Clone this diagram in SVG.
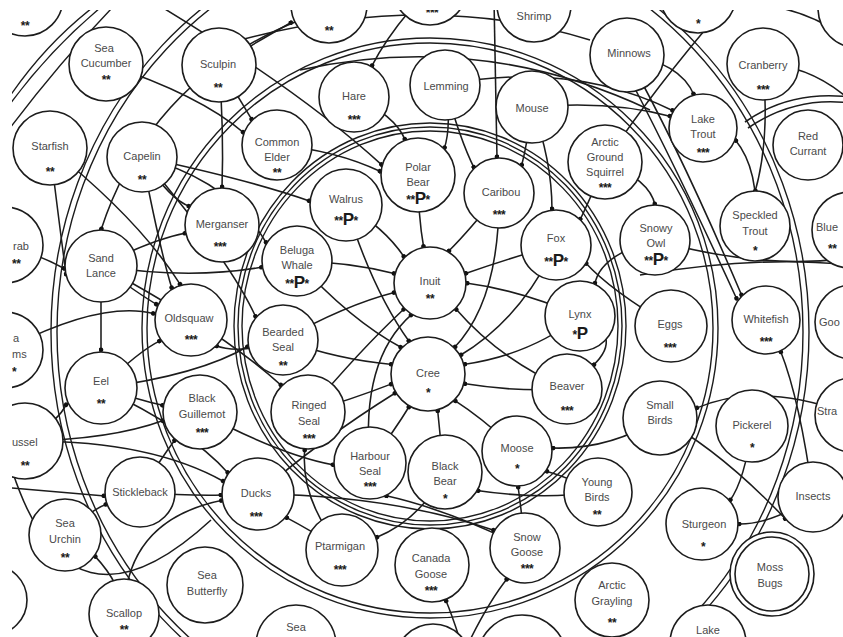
<svg xmlns="http://www.w3.org/2000/svg" width="843" height="637" viewBox="0 0 843 637">
<defs>
<clipPath id="clip"><rect x="12" y="10" width="831" height="627"/></clipPath>
<marker id="dot" viewBox="0 0 6 6" refX="4.5" refY="3" markerWidth="5" markerHeight="5" markerUnits="userSpaceOnUse" orient="auto"><circle cx="3" cy="3" r="2.8" fill="#111"/></marker>
<style>
.n circle{fill:#fff;stroke:#1c1c1c;stroke-width:1.6}
.n text{font-family:"Liberation Sans",Arial,Helvetica,sans-serif;font-size:11px;fill:#4a4a4a;text-anchor:middle}
.n text.s{font-size:12px;font-weight:bold;fill:#1a1a1a;letter-spacing:-0.5px}
.n text.e{text-anchor:start}
.P{font-size:17px}
#rings ellipse,#rings path{fill:none;stroke:#1c1c1c;stroke-width:1.4}
#connectors path{fill:none;stroke:#1c1c1c;stroke-width:1.55}
#connectors path.m{marker-end:url(#dot)}
</style>
</defs>
<rect width="843" height="637" fill="#fff"/>
<g clip-path="url(#clip)">
<g id="rings">
<ellipse cx="430" cy="326" rx="188" ry="195"/>
<ellipse cx="430" cy="326" rx="192" ry="199"/>
<ellipse cx="430" cy="326" rx="196" ry="203"/>
<ellipse cx="430" cy="328" rx="283" ry="285"/>
<ellipse cx="430" cy="328" rx="288" ry="290"/>
<ellipse cx="430" cy="332" rx="373" ry="400"/>
<ellipse cx="430" cy="332" rx="379" ry="405"/>
<path d="M10 96 Q45 45 92 8"/>
<path d="M10 104 Q50 50 100 8"/>
<path d="M10 128 Q60 62 112 8"/>
</g>
<g id="connectors">
<path class="m" d="M418 175 Q418 215 423.7 247.5"/>
<path class="m" d="M499 193 Q470 230 448 251.8"/>
<path class="m" d="M346 205 Q385 228 404.5 257.5"/>
<path class="m" d="M297 261 Q350 262 395.2 273.7"/>
<path class="m" d="M283 340 Q345 305 395.2 292.3"/>
<path class="m" d="M556 245 Q510 258 464.8 273.7"/>
<path class="m" d="M308 412 Q360 350 404.5 308.5"/>
<path class="m" d="M370 463 Q360 360 412 314.2"/>
<path class="m" d="M567 389 Q500 360 455.5 308.5"/>
<path class="m" d="M580 316 Q520 290 466 283"/>
<path class="m" d="M499 193 Q500 300 454.2 347.8"/>
<path class="m" d="M556 245 Q520 320 460 355.5"/>
<path class="m" d="M580 316 Q530 355 463.7 364.4"/>
<path class="m" d="M567 389 Q515 392 463.7 383.6"/>
<path class="m" d="M517 451 Q485 420 454.2 400.2"/>
<path class="m" d="M445 472 Q440 440 437.6 409.7"/>
<path class="m" d="M370 463 Q395 430 409.5 406"/>
<path class="m" d="M308 412 Q350 400 392.3 383.6"/>
<path class="m" d="M283 340 Q340 360 392.3 364.4"/>
<path class="m" d="M297 261 Q350 320 401.8 347.8"/>
<path class="m" d="M346 205 Q372 290 409.5 342"/>
<path class="m" d="M258 494 Q320 440 396 392.5"/>
<path class="m" d="M106 64 Q200 95 244 133"/>
<path class="m" d="M150 0 Q300 90 382.3 165.4"/>
<path class="m" d="M277 145 Q335 150 381.1 171.8"/>
<path class="m" d="M354 97 Q395 115 405.3 140.2"/>
<path class="m" d="M430 -12 Q390 30 371.5 66.7"/>
<path class="m" d="M219 65 Q260 40 292 22"/>
<path class="m" d="M445 85 Q460 140 474.3 168.3"/>
<path class="m" d="M445 85 Q452 125 444.2 148.8"/>
<path class="m" d="M532 107 Q552 160 552 210"/>
<path class="m" d="M532 107 Q528 140 521.5 166.2"/>
<path class="m" d="M494 0 L497 158"/>
<path class="m" d="M605 162 Q590 200 579.7 220.3"/>
<path class="m" d="M671 326 Q610 290 585.3 262.5"/>
<path class="m" d="M605 162 Q650 180 655 205"/>
<path class="m" d="M655 240 Q600 255 594.8 284.3"/>
<path class="m" d="M580 316 Q625 335 593 365.6"/>
<path class="m" d="M660 418 Q610 450 551.9 448"/>
<path class="m" d="M752 426 Q745 480 729.6 501"/>
<path class="m" d="M813 497 Q770 525 738 524"/>
<path class="m" d="M660 418 Q720 450 786 519.5"/>
<path class="m" d="M627 55 Q680 62 694 95"/>
<path class="m" d="M532 107 Q610 100 671 116.4"/>
<path class="m" d="M445 85 Q570 60 673.6 111"/>
<path class="m" d="M755 228 Q760 170 735 139.6"/>
<path class="m" d="M763 64 Q770 140 755 192"/>
<path class="m" d="M627 55 Q680 150 742 296"/>
<path class="m" d="M620 60 Q672 158 737 299.5"/>
<path class="m" d="M813 497 Q800 400 780.4 350.8"/>
<path class="m" d="M142 157 Q170 200 190 206.5"/>
<path class="m" d="M142 157 Q230 180 266.7 243.5"/>
<path class="m" d="M142 157 Q250 180 310.2 201.2"/>
<path class="m" d="M101 266 Q140 295 157.4 304.8"/>
<path class="m" d="M101 266 Q150 240 186 233"/>
<path class="m" d="M101 266 Q190 280 262.5 267"/>
<path class="m" d="M101 388 Q140 350 160.5 340.6"/>
<path class="m" d="M101 388 Q140 400 163.6 405.6"/>
<path class="m" d="M101 388 Q200 375 248.5 346"/>
<path class="m" d="M142 157 Q230 260 256 317.5"/>
<path class="m" d="M101 266 Q220 330 281.8 385.8"/>
<path class="m" d="M283 340 Q240 355 215.5 345.5"/>
<path class="m" d="M219 65 Q240 100 252.3 120.3"/>
<path class="m" d="M219 65 Q224 130 222 188"/>
<path class="m" d="M300 20 Q150 80 101 230"/>
<path class="m" d="M50 148 Q60 230 66.2 275.3"/>
<path class="m" d="M142 157 Q160 250 172 288.8"/>
<path class="m" d="M50 148 Q140 220 180.7 285.2"/>
<path class="m" d="M101 302 L101 351"/>
<path class="m" d="M5 350 Q100 300 154.5 313.7"/>
<path class="m" d="M5 245 Q40 255 65.1 269"/>
<path class="m" d="M25 441 Q150 440 224.2 481.7"/>
<path class="m" d="M25 441 Q60 420 66.5 403.6"/>
<path class="m" d="M25 441 Q110 440 164 420.3"/>
<path class="m" d="M140 492 Q190 496 222 495"/>
<path class="m" d="M140 492 Q160 460 175.2 439.5"/>
<path class="m" d="M0 487 Q60 492 105 496"/>
<path class="m" d="M65 535 Q90 510 107 504"/>
<path class="m" d="M124 614 Q122 585 94.5 555.6"/>
<path class="m" d="M124 614 Q125 520 222.5 500.3"/>
<path class="m" d="M101 388 Q190 430 228.5 473.4"/>
<path class="m" d="M342 550 Q310 530 285.6 517.1"/>
<path class="m" d="M342 550 Q300 500 304.8 448.9"/>
<path class="m" d="M200 412 Q280 455 334 465"/>
<path class="m" d="M525 548 Q450 510 385.2 495.6"/>
<path class="m" d="M445 472 Q420 520 375.8 537.7"/>
<path class="m" d="M258 494 Q390 495 494.7 530.5"/>
<path class="m" d="M470 640 Q490 600 507.5 578.3"/>
<path class="m" d="M460 640 Q452 615 445.6 599.8"/>
<path class="m" d="M525 548 Q522 515 518 486"/>
<path class="m" d="M598 492 Q570 478 545.7 471"/>
<path class="m" d="M598 492 Q540 500 477 490.5"/>
<path class="m" d="M852 415 Q760 380 695.7 408.4"/>
<path d="M655 240 Q760 270 850 258"/>
<path d="M640 275 Q760 255 850 265"/>
<path d="M763 64 Q810 65 850 100"/>
<path d="M745 122 Q790 90 850 97"/>
<path d="M748 128 Q795 96 850 103"/>
<path d="M605 162 Q660 80 735 -5"/>
<path d="M240 40 Q430 -10 590 40"/>
<path d="M300 70 Q480 30 650 110"/>
<path d="M12 470 Q70 650 211 520"/>
<path d="M780 8 Q815 15 850 40"/>
</g>
<g id="n-seabird" class="n"><circle cx="25" cy="-2" r="38"/><text class="s" x="25" y="30">**</text></g>
<g id="n-arcticcod" class="n"><circle cx="329" cy="5" r="38"/><text class="s" x="329" y="35">**</text></g>
<g id="n-top3" class="n"><circle cx="430" cy="-12" r="37"/><text class="s" x="432" y="17">***</text></g>
<g id="n-shrimp" class="n"><circle cx="534" cy="5" r="37"/><text x="534" y="20">Shrimp</text></g>
<g id="n-berry" class="n"><circle cx="698" cy="-5" r="38"/><text class="s" x="698" y="28">*</text></g>
<g id="n-topright" class="n"><circle cx="858" cy="8" r="40"/></g>
<g id="n-seacucumber" class="n"><circle cx="106" cy="64" r="37"/><text x="104" y="52">Sea</text><text x="106" y="67">Cucumber</text><text class="s" x="106" y="84">**</text></g>
<g id="n-sculpin" class="n"><circle cx="219" cy="65" r="37"/><text x="218" y="68">Sculpin</text><text class="s" x="218" y="92">**</text></g>
<g id="n-hare" class="n"><circle cx="354" cy="97" r="35"/><text x="354" y="100">Hare</text><text class="s" x="354" y="124">***</text></g>
<g id="n-lemming" class="n"><circle cx="445" cy="85" r="35"/><text x="446" y="90">Lemming</text></g>
<g id="n-mouse" class="n"><circle cx="532" cy="107" r="36"/><text x="532" y="112">Mouse</text></g>
<g id="n-minnows" class="n"><circle cx="627" cy="55" r="37"/><text x="629" y="57">Minnows</text></g>
<g id="n-cranberry" class="n"><circle cx="763" cy="64" r="36"/><text x="763" y="69">Cranberry</text><text class="s" x="763" y="94">***</text></g>
<g id="n-laketrout" class="n"><circle cx="703" cy="128" r="34"/><text x="703" y="123">Lake</text><text x="703" y="138">Trout</text><text class="s" x="703" y="157">***</text></g>
<g id="n-redcurrant" class="n"><circle cx="808" cy="145" r="35"/><text x="808" y="140">Red</text><text x="808" y="155">Currant</text></g>
<g id="n-starfish" class="n"><circle cx="50" cy="148" r="37"/><text x="50" y="150">Starfish</text><text class="s" x="50" y="176">**</text></g>
<g id="n-capelin" class="n"><circle cx="142" cy="157" r="35"/><text x="142" y="160">Capelin</text><text class="s" x="142" y="184">**</text></g>
<g id="n-commonelder" class="n"><circle cx="277" cy="145" r="35"/><text x="277" y="146">Common</text><text x="277" y="161">Elder</text><text class="s" x="277" y="177">**</text></g>
<g id="n-polarbear" class="n"><circle cx="418" cy="175" r="37"/><text x="418" y="171">Polar</text><text x="418" y="186">Bear</text><text class="s" x="418" y="204">**<tspan class="P">P</tspan>*</text></g>
<g id="n-caribou" class="n"><circle cx="499" cy="193" r="35"/><text x="501" y="196">Caribou</text><text class="s" x="499" y="219">***</text></g>
<g id="n-ags" class="n"><circle cx="605" cy="162" r="37"/><text x="605" y="146">Arctic</text><text x="605" y="161">Ground</text><text x="605" y="176">Squirrel</text><text class="s" x="605" y="192">***</text></g>
<g id="n-walrus" class="n"><circle cx="346" cy="205" r="36"/><text x="346" y="203">Walrus</text><text class="s" x="346" y="225">**<tspan class="P">P</tspan>*</text></g>
<g id="n-speckledtrout" class="n"><circle cx="755" cy="226" r="35"/><text x="755" y="219">Speckled</text><text x="755" y="235">Trout</text><text class="s" x="755" y="255">*</text></g>
<g id="n-fox" class="n"><circle cx="556" cy="245" r="35"/><text x="556" y="242">Fox</text><text class="s" x="556" y="266">**<tspan class="P">P</tspan>*</text></g>
<g id="n-snowyowl" class="n"><circle cx="655" cy="240" r="35"/><text x="656" y="232">Snowy</text><text x="656" y="247">Owl</text><text class="s" x="656" y="265">**<tspan class="P">P</tspan>*</text></g>
<g id="n-merganser" class="n"><circle cx="222" cy="225" r="37"/><text x="222" y="228">Merganser</text><text class="s" x="220" y="251">***</text></g>
<g id="n-sandlance" class="n"><circle cx="101" cy="266" r="36"/><text x="101" y="262">Sand</text><text x="101" y="277">Lance</text></g>
<g id="n-beluga" class="n"><circle cx="297" cy="261" r="35"/><text x="297" y="254">Beluga</text><text x="297" y="269">Whale</text><text class="s" x="297" y="288">**<tspan class="P">P</tspan>*</text></g>
<g id="n-inuit" class="n"><circle cx="430" cy="283" r="36"/><text x="430" y="285">Inuit</text><text class="s" x="430" y="303">**</text></g>
<g id="n-lynx" class="n"><circle cx="580" cy="316" r="35"/><text x="580" y="318">Lynx</text><text class="s" x="580" y="339">*<tspan class="P">P</tspan></text></g>
<g id="n-eggs" class="n"><circle cx="671" cy="326" r="36"/><text x="670" y="328">Eggs</text><text class="s" x="670" y="352">***</text></g>
<g id="n-whitefish" class="n"><circle cx="766" cy="320" r="34"/><text x="766" y="323">Whitefish</text><text class="s" x="766" y="346">***</text></g>
<g id="n-oldsquaw" class="n"><circle cx="191" cy="320" r="36"/><text x="189" y="322">Oldsquaw</text><text class="s" x="191" y="344">***</text></g>
<g id="n-beardedseal" class="n"><circle cx="283" cy="340" r="35"/><text x="283" y="336">Bearded</text><text x="283" y="351">Seal</text><text class="s" x="283" y="370">**</text></g>
<g id="n-eel" class="n"><circle cx="101" cy="388" r="36"/><text x="101" y="385">Eel</text><text class="s" x="101" y="408">**</text></g>
<g id="n-cree" class="n"><circle cx="428" cy="374" r="37"/><text x="428" y="377">Cree</text><text class="s" x="428" y="397">*</text></g>
<g id="n-beaver" class="n"><circle cx="567" cy="389" r="35"/><text x="567" y="390">Beaver</text><text class="s" x="567" y="415">***</text></g>
<g id="n-smallbirds" class="n"><circle cx="660" cy="418" r="37"/><text x="660" y="409">Small</text><text x="660" y="424">Birds</text></g>
<g id="n-pickerel" class="n"><circle cx="752" cy="426" r="36"/><text x="752" y="429">Pickerel</text><text class="s" x="752" y="452">*</text></g>
<g id="n-blackguillemot" class="n"><circle cx="200" cy="412" r="37"/><text x="202" y="402">Black</text><text x="202" y="418">Guillemot</text><text class="s" x="202" y="437">***</text></g>
<g id="n-ringedseal" class="n"><circle cx="308" cy="412" r="37"/><text x="309" y="409">Ringed</text><text x="309" y="425">Seal</text><text class="s" x="309" y="443">***</text></g>
<g id="n-moose" class="n"><circle cx="517" cy="451" r="35"/><text x="517" y="452">Moose</text><text class="s" x="517" y="473">*</text></g>
<g id="n-harbourseal" class="n"><circle cx="370" cy="463" r="36"/><text x="370" y="460">Harbour</text><text x="370" y="475">Seal</text><text class="s" x="370" y="491">***</text></g>
<g id="n-blackbear" class="n"><circle cx="445" cy="472" r="37"/><text x="445" y="470">Black</text><text x="445" y="485">Bear</text><text class="s" x="445" y="503">*</text></g>
<g id="n-youngbirds" class="n"><circle cx="598" cy="492" r="34"/><text x="597" y="486">Young</text><text x="597" y="501">Birds</text><text class="s" x="597" y="519">**</text></g>
<g id="n-insects" class="n"><circle cx="813" cy="497" r="35"/><text x="813" y="500">Insects</text></g>
<g id="n-sturgeon" class="n"><circle cx="702" cy="524" r="36"/><text x="704" y="528">Sturgeon</text><text class="s" x="703" y="551">*</text></g>
<g id="n-stickleback" class="n"><circle cx="140" cy="492" r="35"/><text x="140" y="496">Stickleback</text></g>
<g id="n-ducks" class="n"><circle cx="258" cy="494" r="36"/><text x="256" y="497">Ducks</text><text class="s" x="256" y="521">***</text></g>
<g id="n-seaurchin" class="n"><circle cx="65" cy="535" r="36"/><text x="65" y="527">Sea</text><text x="65" y="543">Urchin</text><text class="s" x="65" y="562">**</text></g>
<g id="n-ptarmigan" class="n"><circle cx="342" cy="550" r="36"/><text x="340" y="550">Ptarmigan</text><text class="s" x="340" y="574">***</text></g>
<g id="n-snowgoose" class="n"><circle cx="525" cy="548" r="35"/><text x="527" y="541">Snow</text><text x="527" y="556">Goose</text><text class="s" x="527" y="573">***</text></g>
<g id="n-canadagoose" class="n"><circle cx="432" cy="565" r="37"/><text x="431" y="562">Canada</text><text x="431" y="578">Goose</text><text class="s" x="431" y="595">***</text></g>
<g id="n-seabutterfly" class="n"><circle cx="205" cy="585" r="38"/><text x="207" y="579">Sea</text><text x="207" y="595">Butterfly</text></g>
<g id="n-mossbugs" class="n"><circle cx="772" cy="574" r="42"/><circle cx="772" cy="574" r="37"/><text x="770" y="571">Moss</text><text x="770" y="587">Bugs</text></g>
<g id="n-arcticgrayling" class="n"><circle cx="612" cy="600" r="37"/><text x="612" y="589">Arctic</text><text x="612" y="605">Grayling</text><text class="s" x="612" y="627">**</text></g>
<g id="n-scallop" class="n"><circle cx="124" cy="614" r="35"/><text x="124" y="617">Scallop</text><text class="s" x="124" y="634">**</text></g>
<g id="n-seabottom" class="n"><circle cx="296" cy="645" r="40"/><text x="296" y="631">Sea</text></g>
<g id="n-bottommid" class="n"><circle cx="433" cy="662" r="38"/></g>
<g id="n-bottom520" class="n"><circle cx="522" cy="660" r="45"/></g>
<g id="n-lakebottom" class="n"><circle cx="708" cy="643" r="38"/><text x="708" y="634">Lake</text></g>
<g id="n-crab" class="n"><circle cx="5" cy="245" r="38"/><text class="e" x="13" y="250">rab</text><text class="s e" x="12" y="268">**</text></g>
<g id="n-clams" class="n"><circle cx="5" cy="350" r="38"/><text class="e" x="13" y="342">a</text><text class="e" x="12" y="358">ms</text><text class="s e" x="12" y="376">*</text></g>
<g id="n-mussel" class="n"><circle cx="25" cy="441" r="38"/><text class="e" x="12" y="446">ussel</text><text class="s" x="25" y="470">**</text></g>
<g id="n-bottomleft" class="n"><circle cx="-8" cy="600" r="35"/></g>
<g id="n-blue" class="n"><circle cx="850" cy="230" r="38"/><text class="e" x="816" y="231">Blue</text><text class="s e" x="828" y="253">**</text></g>
<g id="n-goo" class="n"><circle cx="852" cy="322" r="37"/><text class="e" x="819" y="326">Goo</text></g>
<g id="n-stra" class="n"><circle cx="852" cy="415" r="37"/><text class="e" x="817" y="415">Stra</text></g>
</g>
</svg>
